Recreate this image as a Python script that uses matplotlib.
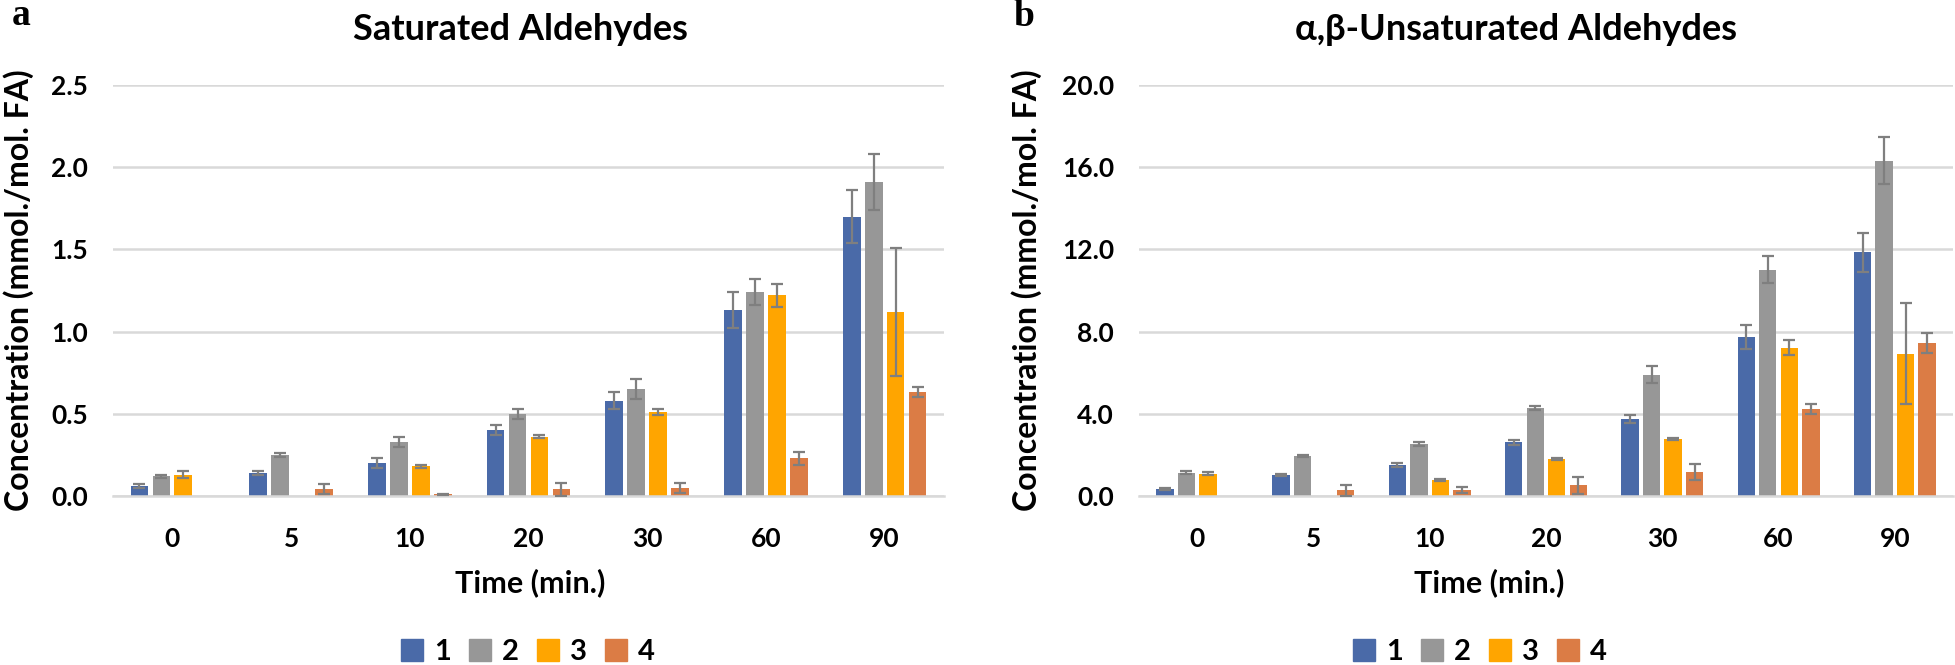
import numpy as np
import matplotlib
matplotlib.use('Agg')
import matplotlib.pyplot as plt
import matplotlib.patches as mpatches
from matplotlib.ticker import FormatStrFormatter

plt.rcParams['font.family'] = ['Lato', 'Noto Sans', 'DejaVu Sans']
plt.rcParams['font.weight'] = 'bold'

# time points (min.) shared by both panels
times = ['0', '5', '10', '20', '30', '60', '90']
series_names = ['1', '2', '3', '4']
colors = ['#4a6aa8', '#979797', '#ffa500', '#db7c45']

# saturated aldehydes, mean and error (mmol./mol. FA)
sat_1 = [0.06, 0.14, 0.20, 0.40, 0.58, 1.13, 1.70]
sat_2 = [0.12, 0.25, 0.33, 0.50, 0.65, 1.24, 1.91]
sat_3 = [0.13, 0.00, 0.18, 0.36, 0.51, 1.22, 1.12]
sat_4 = [0.00, 0.04, 0.01, 0.04, 0.05, 0.23, 0.63]
sat_err_1 = [0.01, 0.01, 0.03, 0.03, 0.05, 0.11, 0.16]
sat_err_2 = [0.01, 0.01, 0.03, 0.03, 0.06, 0.08, 0.17]
sat_err_3 = [0.02, 0.00, 0.01, 0.01, 0.02, 0.07, 0.39]
sat_err_4 = [0.00, 0.03, 0.005, 0.04, 0.03, 0.04, 0.03]

# alpha,beta-unsaturated aldehydes
uns_1 = [0.32, 1.04, 1.49, 2.61, 3.75, 7.73, 11.85]
uns_2 = [1.14, 1.93, 2.55, 4.29, 5.91, 11.02, 16.31]
uns_3 = [1.09, 0.00, 0.80, 1.80, 2.76, 7.22, 6.93]
uns_4 = [0.00, 0.28, 0.28, 0.52, 1.17, 4.24, 7.45]
uns_err_1 = [0.05, 0.05, 0.10, 0.13, 0.20, 0.60, 0.97]
uns_err_2 = [0.08, 0.05, 0.10, 0.10, 0.40, 0.67, 1.14]
uns_err_3 = [0.07, 0.00, 0.05, 0.05, 0.05, 0.36, 2.44]
uns_err_4 = [0.00, 0.27, 0.14, 0.41, 0.40, 0.26, 0.49]

W, H = 1956, 665
fig = plt.figure(figsize=(W / 100, H / 100), dpi=100)


def px(x, y):
    return x / W, 1 - y / H


def panel(rect, vals, errs, ymax, ystep):
    ax = fig.add_axes(rect)
    x = np.arange(len(times))
    slot = 0.185
    for i, (v, e) in enumerate(zip(vals, errs)):
        pos = x + (i - 1.5) * slot
        ax.bar(pos, v, width=0.149, color=colors[i], zorder=2)
        v = np.array(v)
        e = np.array(e)
        m = e > 0
        ax.errorbar(pos[m], v[m], yerr=e[m], fmt='none', ecolor='#7f7f7f',
                    elinewidth=1.6, capsize=4, capthick=1.6, zorder=3)
    ax.set_xlim(-0.5, len(times) - 0.5)
    ax.set_ylim(0, ymax)
    ax.set_yticks(np.arange(0, ymax + ystep / 2, ystep))
    ax.yaxis.set_major_formatter(FormatStrFormatter('%.1f'))
    ax.set_xticks(x)
    ax.set_xticklabels(times)
    ax.grid(axis='y', color='#d9d9d9', linewidth=1.8, zorder=0)
    for s in ['top', 'right', 'left']:
        ax.spines[s].set_visible(False)
    ax.spines['bottom'].set_color('#d9d9d9')
    ax.spines['bottom'].set_linewidth(1.8)
    ax.tick_params(axis='both', length=0, labelsize=19)
    ax.tick_params(axis='y', pad=18)
    ax.tick_params(axis='x', pad=22)
    return ax


bottom = 1 - 496 / H
height = (496 - 85) / H
ax1 = panel([113 / W, bottom, (944 - 113) / W, height],
            [sat_1, sat_2, sat_3, sat_4],
            [sat_err_1, sat_err_2, sat_err_3, sat_err_4], 2.5, 0.5)
ax2 = panel([1139 / W, bottom, (1953 - 1139) / W, height],
            [uns_1, uns_2, uns_3, uns_4],
            [uns_err_1, uns_err_2, uns_err_3, uns_err_4], 20.0, 4.0)

# titles, axis labels, panel letters
fig.text(*px(520, 30), 'Saturated Aldehydes', ha='center', va='center', fontsize=26)
fig.text(*px(1516, 30), 'α,β-Unsaturated Aldehydes', ha='center', va='center', fontsize=26)
ylab = 'Concentration (mmol./mol. FA)'
fig.text(*px(19, 290), ylab, rotation=90, ha='center', va='center', fontsize=23)
fig.text(*px(1027, 290), ylab, rotation=90, ha='center', va='center', fontsize=23)
fig.text(*px(530, 583), 'Time (min.)', ha='center', va='center', fontsize=22)
fig.text(*px(1489, 583), 'Time (min.)', ha='center', va='center', fontsize=22)
fig.text(*px(12, 25), 'a', ha='left', va='baseline', fontsize=27,
         family='Liberation Serif', weight='bold')
fig.text(*px(1013, 26), 'b', ha='left', va='baseline', fontsize=27,
         family='Liberation Serif', weight='bold')

# legends below each panel
handles = [mpatches.Patch(color=c, label=n) for c, n in zip(colors, series_names)]
for cx in [528, 1480]:
    fig.legend(handles=handles, loc='center', bbox_to_anchor=px(cx, 652),
               ncol=4, frameon=False, fontsize=21, handlelength=0.75,
               handleheight=0.75, handletextpad=0.4, columnspacing=0.6,
               borderpad=0, borderaxespad=0)

fig.savefig('out.png', dpi=100)
